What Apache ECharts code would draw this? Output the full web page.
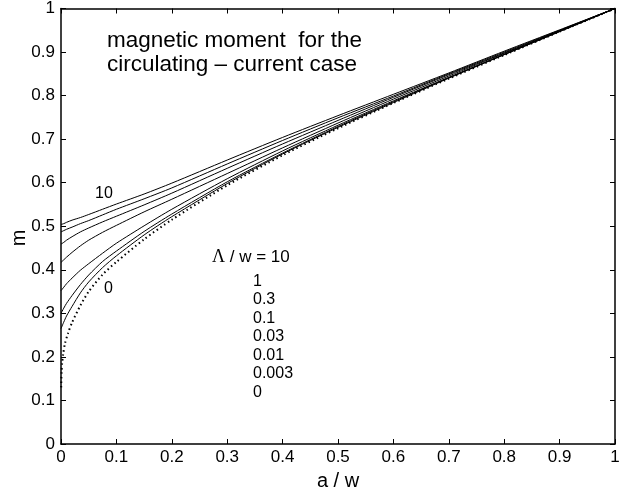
<!DOCTYPE html>
<html>
<head>
<meta charset="utf-8">
<script src="https://cdn.jsdelivr.net/npm/echarts@6/dist/echarts.min.js"></script>
<style>
html,body{margin:0;padding:0;background:#fff;}
#c{width:637px;height:496px;}
</style>
</head>
<body>
<div id="c"></div>
<script>
// shared x grid (a / w) for the finite-Lambda curves
var xs = [0, 0.005, 0.01, 0.02, 0.035, 0.05, 0.075, 0.1, 0.15, 0.2, 0.3, 0.4, 0.5, 0.6, 0.7, 0.8, 0.9, 1];
// m values for each Lambda / w
var m10   = [0.504, 0.506, 0.509, 0.514, 0.520, 0.527, 0.539, 0.551, 0.574, 0.599, 0.652, 0.704, 0.754, 0.803, 0.852, 0.902, 0.951, 1];
var m1    = [0.487, 0.490, 0.493, 0.498, 0.506, 0.513, 0.526, 0.539, 0.563, 0.588, 0.643, 0.697, 0.749, 0.799, 0.850, 0.900, 0.950, 1];
var m03   = [0.459, 0.463, 0.468, 0.476, 0.487, 0.496, 0.510, 0.523, 0.549, 0.576, 0.633, 0.689, 0.743, 0.796, 0.848, 0.898, 0.949, 1];
var m01   = [0.417, 0.423, 0.429, 0.440, 0.455, 0.468, 0.486, 0.502, 0.533, 0.562, 0.621, 0.680, 0.737, 0.792, 0.845, 0.897, 0.948, 1];
var m003  = [0.352, 0.360, 0.368, 0.381, 0.399, 0.414, 0.438, 0.461, 0.501, 0.539, 0.609, 0.673, 0.732, 0.788, 0.842, 0.895, 0.948, 1];
var m001  = [0.300, 0.312, 0.323, 0.341, 0.366, 0.388, 0.419, 0.443, 0.488, 0.528, 0.602, 0.668, 0.729, 0.786, 0.841, 0.894, 0.947, 1];
var m0003 = [0.265, 0.280, 0.294, 0.316, 0.347, 0.372, 0.405, 0.432, 0.480, 0.522, 0.598, 0.666, 0.727, 0.784, 0.840, 0.894, 0.947, 1];
// Lambda / w = 0 (dotted curve)
var xs0 = [0.0003, 0.001, 0.002, 0.004, 0.007, 0.0126, 0.02, 0.035, 0.05, 0.075, 0.1, 0.15, 0.2, 0.3, 0.4, 0.5, 0.6, 0.7, 0.8, 0.9, 1];
var m0  = [0.130, 0.165, 0.185, 0.207, 0.230, 0.254, 0.279, 0.318, 0.350, 0.389, 0.418, 0.470, 0.515, 0.594, 0.663, 0.725, 0.783, 0.839, 0.893, 0.947, 1];

var lambdaLabels = ['1', '0.3', '0.1', '0.03', '0.01', '0.003', '0'];
var titleLines = ['magnetic moment  for the', 'circulating \u2013 current case'];

function pairs(x, y) { return x.map(function (v, i) { return [v, y[i]]; }); }

var FONT = '"Liberation Sans", Arial, sans-serif';
var chart = echarts.init(document.getElementById('c'), null, {renderer: 'canvas'});

function solid(name, y) {
  return {
    name: name, type: 'line', data: pairs(xs, y), showSymbol: false,
    smooth: 0.25,
    lineStyle: {color: '#000', width: 1}, silent: true
  };
}

function frameAxis(pos) {
  return {
    type: 'value', min: 0, max: 1, interval: 0.1, position: pos,
    axisLine: {show: true, onZero: false, lineStyle: {color: '#000', width: 1.5}},
    axisTick: {show: true, inside: true, length: 5, lineStyle: {color: '#000', width: 1}},
    axisLabel: {show: false}, splitLine: {show: false}
  };
}

var option = {
  backgroundColor: '#fff',
  animation: false,
  grid: {left: 61, right: 22, top: 7, bottom: 52, show: false},
  xAxis: [{
    type: 'value', min: 0, max: 1, interval: 0.1, position: 'bottom',
    name: 'a / w', nameLocation: 'middle', nameGap: 27,
    nameTextStyle: {color: '#000', fontFamily: FONT, fontSize: 20},
    axisLine: {show: true, onZero: false, lineStyle: {color: '#000', width: 1.5}},
    axisTick: {show: true, inside: true, length: 5, lineStyle: {color: '#000', width: 1}},
    axisLabel: {color: '#000', fontFamily: FONT, fontSize: 17, margin: 5},
    splitLine: {show: false}
  }, frameAxis('top')],
  yAxis: [{
    type: 'value', min: 0, max: 1, interval: 0.1, position: 'left',
    axisLine: {show: true, onZero: false, lineStyle: {color: '#000', width: 1.5}},
    axisTick: {show: true, inside: true, length: 5, lineStyle: {color: '#000', width: 1}},
    axisLabel: {color: '#000', fontFamily: FONT, fontSize: 17, margin: 6},
    splitLine: {show: false}
  }, frameAxis('right')],
  series: [
    solid('10', m10), solid('1', m1), solid('0.3', m03), solid('0.1', m01),
    solid('0.03', m003), solid('0.01', m001), solid('0.003', m0003),
    {
      name: '0', type: 'line', data: pairs(xs0, m0), showSymbol: false,
      smooth: 0.25,
      lineStyle: {color: '#000', width: 2, type: [1.5, 3]}, silent: true
    }
  ],
  graphic: [
    {type: 'text', x: 19, y: 238, rotation: Math.PI / 2, style: {text: 'm', font: '20px ' + FONT, fill: '#000', align: 'center', verticalAlign: 'middle'}},
    {type: 'text', left: 107, top: 29, style: {text: titleLines.join('\n'), font: '22.5px ' + FONT, lineHeight: 24, fill: '#000'}},
    {type: 'text', left: 95, top: 186, style: {text: '10', font: '16px ' + FONT, fill: '#000'}},
    {type: 'text', left: 104, top: 281, style: {text: '0', font: '16px ' + FONT, fill: '#000'}},
    {type: 'text', left: 212, top: 248, style: {
      text: '{s|\u039B} / w = 10',
      font: '17px ' + FONT, fill: '#000',
      rich: {s: {fontFamily: '"Liberation Serif", serif', fontSize: 18, fill: '#000'}}
    }},
    {type: 'text', left: 253, top: 272, style: {text: lambdaLabels.join('\n'), font: '16px ' + FONT, lineHeight: 18.5, fill: '#000'}}
  ]
};
chart.setOption(option);
</script>
</body>
</html>
